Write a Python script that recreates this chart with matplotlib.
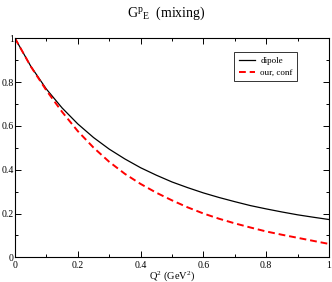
import matplotlib
matplotlib.use("Agg")
import matplotlib.pyplot as plt
from matplotlib.ticker import MultipleLocator

# values
q2 = [0.0, 0.05, 0.1, 0.15, 0.2, 0.25, 0.3, 0.35, 0.4, 0.45, 0.5,
      0.55, 0.6, 0.65, 0.7, 0.75, 0.8, 0.85, 0.9, 0.95, 1.0]
dipole = [1.0, 0.873, 0.768, 0.682, 0.609, 0.547, 0.494, 0.449, 0.409, 0.375, 0.344,
          0.318, 0.294, 0.273, 0.254, 0.236, 0.221, 0.207, 0.194, 0.183, 0.1725]
our_conf = [1.0, 0.872, 0.762, 0.664, 0.576, 0.501, 0.436, 0.381, 0.335, 0.295, 0.260,
            0.228, 0.200, 0.176, 0.155, 0.136, 0.118, 0.103, 0.089, 0.075, 0.061]
xticks = [0, 0.2, 0.4, 0.6, 0.8, 1]
xtick_labels = ["0", "0.2", "0.4", "0.6", "0.8", "1"]
yticks = [0, 0.2, 0.4, 0.6, 0.8, 1]
ytick_labels = ["0", "0.2", "0.4", "0.6", "0.8", "1"]

plt.rcParams["font.family"] = ["Liberation Serif", "DejaVu Serif"]
plt.rcParams["mathtext.fontset"] = "custom"
plt.rcParams["mathtext.rm"] = "Liberation Serif"
plt.rcParams["mathtext.it"] = "Liberation Serif"

W, H = 332, 282
fig = plt.figure(figsize=(W / 100, H / 100), dpi=100)
ax = fig.add_axes([15 / W, (H - 257.3) / H, 314 / W, 219 / H])

ax.plot(q2, dipole, color="black", lw=0.9, label="dipole")
ax.plot(q2, our_conf, color="red", lw=1.4, ls=(0, (3.5, 2)), label="our, conf")

ax.set_xlim(0, 1)
ax.set_ylim(0, 1)
ax.set_xticks(xticks)
ax.set_xticklabels(xtick_labels)
ax.set_yticks(yticks)
ax.set_yticklabels(ytick_labels)
ax.xaxis.set_minor_locator(MultipleLocator(0.1))
ax.yaxis.set_minor_locator(MultipleLocator(0.1))
ax.tick_params(which="both", direction="in", top=True, right=True,
               labelsize=7, width=0.7, pad=3)
ax.tick_params(which="major", length=4)
ax.tick_params(which="minor", length=2)
ax.tick_params(axis="y", pad=1)
for sp in ax.spines.values():
    sp.set_linewidth(0.8)

fig.text(0.5 * (15 + 329) / W, 1 - 276 / H,
         r"Q$^{\mathrm{2}}$ (GeV$^{\mathrm{2}}$)",
         ha="center", va="center", fontsize=7.5)

leg = ax.legend(loc="upper left", bbox_to_anchor=((234 - 15) / 314, (257.3 - 52) / 219),
                fontsize=6.5, frameon=True, fancybox=False, edgecolor="black",
                borderpad=0.5, handlelength=1.8, handletextpad=0.6, labelspacing=0.4,
                borderaxespad=0)
leg.get_frame().set_linewidth(0.7)

fig.text(0.5, 1 - 13 / H, r"G$^{\mathrm{p}}{}_{\mathrm{E}}$  (mixing)",
         ha="center", va="center", fontsize=10)

fig.savefig("out.png", dpi=100)
plt.close(fig)
